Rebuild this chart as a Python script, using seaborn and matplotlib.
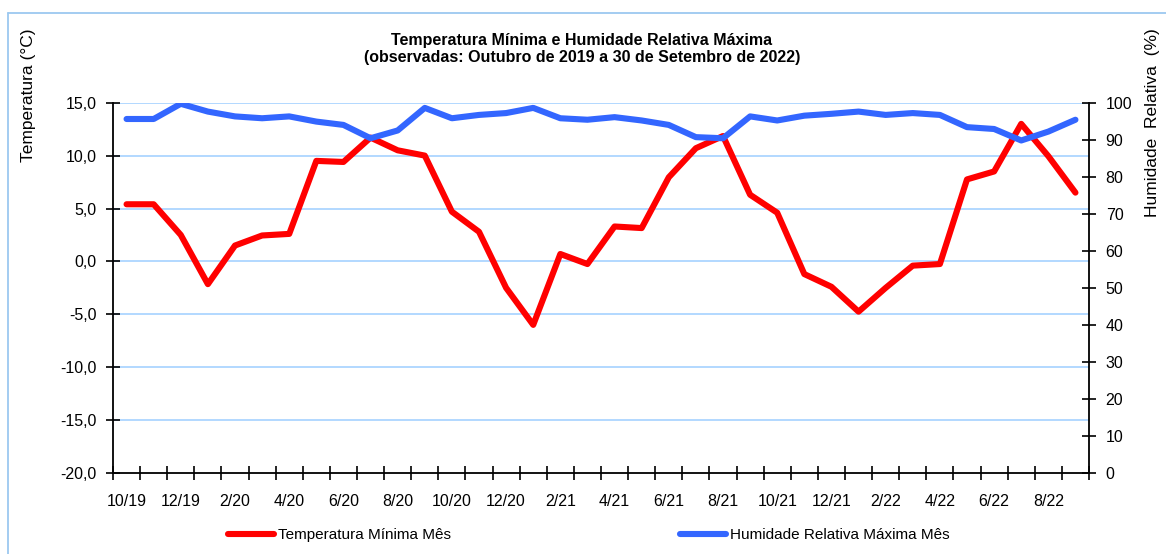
import numpy as np
import pandas as pd
import matplotlib
matplotlib.use("Agg")
import matplotlib.pyplot as plt
from matplotlib.lines import Line2D
from matplotlib.ticker import FixedLocator, FuncFormatter
import seaborn as sns

# ---- data ----
months = ["10/19", "11/19", "12/19", "1/20", "2/20", "3/20", "4/20", "5/20", "6/20",
          "7/20", "8/20", "9/20", "10/20", "11/20", "12/20", "1/21", "2/21", "3/21",
          "4/21", "5/21", "6/21", "7/21", "8/21", "9/21", "10/21", "11/21", "12/21",
          "1/22", "2/22", "3/22", "4/22", "5/22", "6/22", "7/22", "8/22", "9/22"]
temp_min = [5.4, 5.4, 2.5, -2.15, 1.5, 2.45, 2.6, 9.5, 9.4, 11.7, 10.5, 10.0,
            4.7, 2.8, -2.5, -6.0, 0.7, -0.25, 3.3, 3.15, 7.95, 10.7, 11.85, 6.3,
            4.6, -1.2, -2.4, -4.75, -2.5, -0.4, -0.25, 7.75, 8.5, 13.0, 9.95, 6.5]
hum_max = [95.6, 95.6, 99.7, 97.6, 96.3, 95.8, 96.3, 94.9, 94.0, 90.4, 92.5, 98.6,
           95.8, 96.7, 97.2, 98.6, 95.8, 95.4, 96.1, 95.2, 94.0, 90.7, 90.4, 96.3,
           95.2, 96.5, 97.0, 97.6, 96.7, 97.2, 96.7, 93.4, 92.9, 89.8, 92.2, 95.4]
temp_ticks = [-20, -15, -10, -5, 0, 5, 10, 15]
hum_ticks = list(range(0, 101, 10))

title = "Temperatura Mínima e Humidade Relativa Máxima\n(observadas: Outubro de 2019 a 30 de Setembro de 2022)"
ylabel_left = "Temperatura (°C)"
ylabel_right = "Humidade  Relativa  (%)"
lbl_temp = "Temperatura Mínima Mês"
lbl_hum = "Humidade Relativa Máxima Mês"

RED = "#FF0000"
BLUE = "#3366FF"
GRID = "#A6D2FF"

sns.set_theme(style="white")
plt.rcParams["font.family"] = ["Liberation Sans", "DejaVu Sans"]
plt.rcParams["text.color"] = "#000000"
plt.rcParams["xtick.color"] = "#000000"
plt.rcParams["ytick.color"] = "#000000"
plt.rcParams["axes.labelcolor"] = "#000000"

df = pd.DataFrame({"pos": np.arange(len(months)) + 0.5, "month": months,
                   "temp": temp_min, "hum": hum_max})

fig = plt.figure(figsize=(11.66, 5.54), dpi=100)
ax = fig.add_axes([113 / 1166, 1 - 473 / 554, (1089 - 113) / 1166, (473 - 102.7) / 554])
ax2 = ax.twinx()

sns.lineplot(data=df, x="pos", y="temp", ax=ax, color=RED, linewidth=4.4,
             solid_capstyle="round", solid_joinstyle="round", zorder=3)
sns.lineplot(data=df, x="pos", y="hum", ax=ax2, color=BLUE, linewidth=4.4,
             solid_capstyle="round", solid_joinstyle="round", zorder=3)

ax.set_xlim(0, len(months))
ax.set_ylim(-20, 15)
ax2.set_ylim(0, 100)

# gridlines
for t in temp_ticks[1:]:
    ax.axhline(t, color=GRID, lw=1.2, zorder=0)

for a in (ax, ax2):
    a.set_xlabel("")
    a.set_ylabel("")
    for s in a.spines.values():
        s.set_visible(False)

ax.spines["left"].set_visible(True)
ax.spines["bottom"].set_visible(True)
ax2.spines["right"].set_visible(True)
for s in (ax.spines["left"], ax.spines["bottom"], ax2.spines["right"]):
    s.set_color("#000000")
    s.set_linewidth(1.3)

# x ticks: minor ticks at category boundaries, labels at every 2nd category center
ax.xaxis.set_minor_locator(FixedLocator(np.arange(0, len(months) + 1)))
ax.xaxis.set_major_locator(FixedLocator(df["pos"].values[::2]))
ax.set_xticklabels(months[::2])
ax.tick_params(axis="x", which="major", length=0, pad=15, labelsize=11.5, colors="#000000")
ax.tick_params(axis="x", which="minor", direction="inout", length=10, width=1.2,
               color="#000000", bottom=True)

ax.yaxis.set_major_locator(FixedLocator(temp_ticks))
ax.yaxis.set_major_formatter(FuncFormatter(lambda v, p: f"{v:.1f}".replace(".", ",")))
ax.tick_params(axis="y", which="major", direction="inout", length=10, width=1.2,
               color="#000000", left=True, pad=7, labelsize=11.5, labelcolor="#000000")

ax2.yaxis.set_major_locator(FixedLocator(hum_ticks))
ax2.tick_params(axis="y", which="major", direction="inout", length=10, width=1.2,
                color="#000000", right=True, pad=7, labelsize=11.5, labelcolor="#000000")
ax2.grid(False)
ax.grid(False)

# axis titles
fig.text(29 / 1166, 1 - 28 / 554, ylabel_left, rotation=90, ha="center",
         va="top", fontsize=12.5)
fig.text(1153 / 1166, 1 - 28 / 554, ylabel_right, rotation=90,
         ha="center", va="top", fontsize=12.5)

# title
fig.text(582 / 1166, 1 - 49 / 554, title, ha="center", va="center", fontsize=11.5,
         fontweight="bold", linespacing=1.2)

# legends
h1 = [Line2D([], [], color=RED, lw=4.4)]
h2 = [Line2D([], [], color=BLUE, lw=4.4)]
leg1 = fig.legend(h1, [lbl_temp], loc="center left",
                  bbox_to_anchor=(228 / 1166, 1 - 535 / 554), frameon=False,
                  fontsize=11, handlelength=3.0, handletextpad=0.3, borderpad=0,
                  borderaxespad=0)
leg2 = fig.legend(h2, [lbl_hum], loc="center left",
                  bbox_to_anchor=(680 / 1166, 1 - 535 / 554), frameon=False,
                  fontsize=11, handlelength=3.0, handletextpad=0.3, borderpad=0,
                  borderaxespad=0)

# outer chart frame (light blue)
fig.add_artist(Line2D([7.5 / 1166, 1.0], [1 - 13 / 554, 1 - 13 / 554],
                      transform=fig.transFigure, color="#9CC8F0", lw=1.3))
fig.add_artist(Line2D([7.5 / 1166, 7.5 / 1166], [0.0, 1 - 13 / 554],
                      transform=fig.transFigure, color="#9CC8F0", lw=1.3))

fig.savefig("out.png", dpi=100)
